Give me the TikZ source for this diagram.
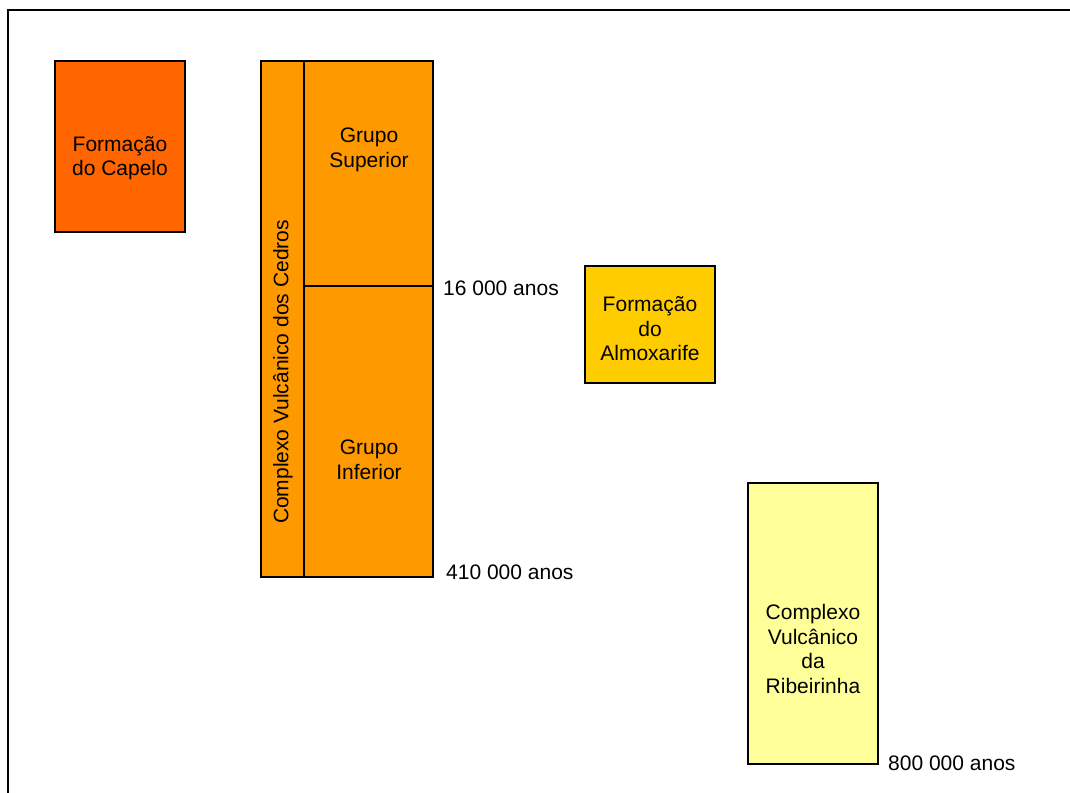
\documentclass[tikz,border=0pt]{standalone}
\usepackage{fontspec}
\setmainfont{Liberation Sans}
\definecolor{capelo}{HTML}{FF6600}
\definecolor{cedros}{HTML}{FF9900}
\definecolor{almox}{HTML}{FFCC00}
\definecolor{ribeir}{HTML}{FFFF99}
\begin{document}
\begin{tikzpicture}[x=1pt,y=-1pt,
  unit/.style={draw=black,line width=1.5pt,anchor=north west,inner sep=0pt,outer sep=0pt},
  lbl/.style={font=\fontsize{21}{24.5}\selectfont,align=center,inner sep=0pt},
  age/.style={font=\fontsize{21}{24.5}\selectfont,anchor=west,inner sep=0pt}]
\useasboundingbox (0,0) rectangle (1070,792);
\clip (0,0) rectangle (1070,792);
\fill[white] (0,0) rectangle (1070,792);
% outer frame (runs past the right and bottom edges)
\draw[line width=1.5pt] (8,10) -- (1090,10) -- (1090,810) -- (8,810) -- cycle;

% Formacao do Capelo
\node[unit,fill=capelo,minimum width=130pt,minimum height=171pt] (capelo) at (55,61) {};
\node[lbl] (capelotxt) at (120,158) {Formação\\do Capelo};

% Complexo Vulcanico dos Cedros
\node[unit,fill=cedros,minimum width=43pt,minimum height=516pt] (cedros) at (261,61) {};
\node[unit,fill=cedros,minimum width=129pt,minimum height=225pt] (sup) at (304,61) {};
\node[unit,fill=cedros,minimum width=129pt,minimum height=291pt] (inf) at (304,286) {};
\node[lbl,rotate=90] (cedrostxt) at (283,372) {Complexo Vulcânico dos Cedros};
\node[lbl] (suptxt) at (369,150) {Grupo\\Superior};
\node[lbl] (inftxt) at (369,460) {Grupo\\Inferior};
\node[age] (a16) at (443,288) {16 000 anos};
\node[age] (a410) at (446,572) {410 000 anos};

% Formacao do Almoxarife
\node[unit,fill=almox,minimum width=130pt,minimum height=117pt] (almox) at (585,266) {};
\node[lbl] (almoxtxt) at (650,329) {Formação\\do\\Almoxarife};

% Complexo Vulcanico da Ribeirinha
\node[unit,fill=ribeir,minimum width=130pt,minimum height=281pt] (ribeir) at (748,483) {};
\node[lbl] (ribeirtxt) at (813,649) {Complexo\\Vulcânico\\da\\Ribeirinha};
\node[age] (a800) at (888,763) {800 000 anos};
\end{tikzpicture}
\end{document}
